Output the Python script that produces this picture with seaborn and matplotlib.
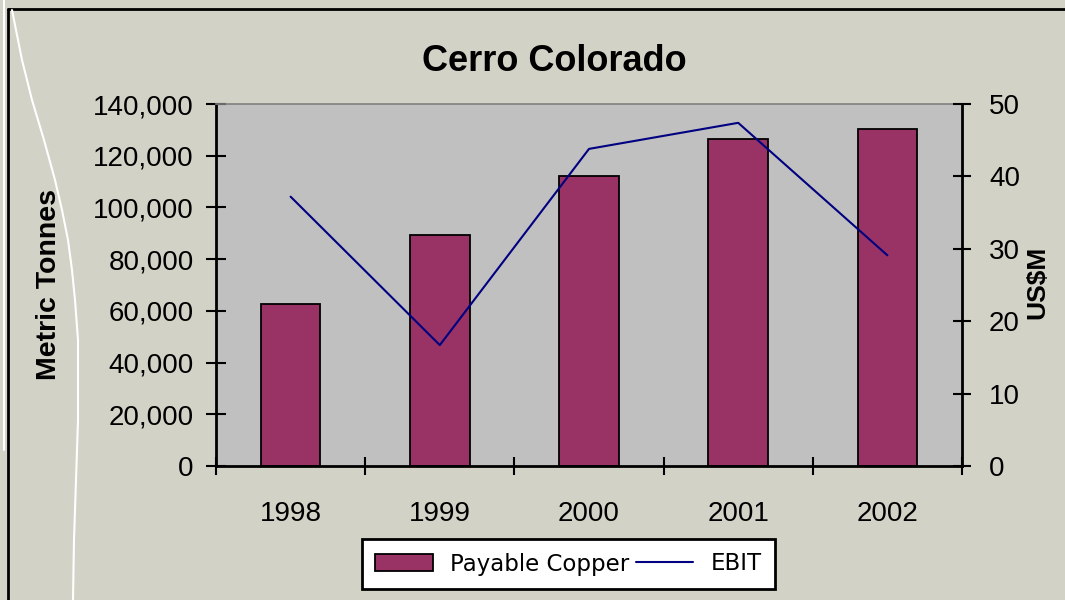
import numpy as np
import pandas as pd
import matplotlib
matplotlib.use("Agg")
import matplotlib.pyplot as plt
from matplotlib.lines import Line2D
from matplotlib.ticker import FuncFormatter, FixedLocator, MultipleLocator
import seaborn as sns

years = ["1998", "1999", "2000", "2001", "2002"]
payable_copper = [62500, 89500, 112000, 126500, 130500]
ebit = [37.2, 16.7, 43.8, 47.4, 29.1]

sns.set_style("white")
plt.rcParams["font.family"] = ["Liberation Sans", "DejaVu Sans"]
plt.rcParams.update({"text.color": "black", "axes.labelcolor": "black",
                     "xtick.color": "black", "ytick.color": "black"})

BG = "#D3D2C7"
fig = plt.figure(figsize=(10.65, 6.0), dpi=100, facecolor=BG)
ax = fig.add_axes([216/1065, 1-466/600, (962-216)/1065, (466-104)/600])
ax.set_facecolor("#C0C0C0")

df = pd.DataFrame({"Year": years, "Payable Copper": payable_copper, "EBIT": ebit})
sns.barplot(data=df, x="Year", y="Payable Copper", ax=ax, color="#993366",
            saturation=1, width=0.4, edgecolor="black", linewidth=1.3,
            label="Payable Copper")

ax2 = ax.twinx()
sns.pointplot(data=df, x="Year", y="EBIT", ax=ax2, color="#000080",
              markers="", linewidth=1.5, errorbar=None, label="EBIT")

for a in (ax, ax2):
    a.set_xlim(-0.5, len(years) - 0.5)
ax.set_ylim(0, 140000)
ax2.set_ylim(0, 50)

# left axis
ax.yaxis.set_major_locator(MultipleLocator(20000))
ax.yaxis.set_major_formatter(FuncFormatter(lambda v, p: f"{int(v):,}"))
ax.tick_params(axis="y", direction="inout", length=14, width=1.5,
               labelsize=20, pad=9, left=True, colors="black")
ax.set_ylabel("Metric Tonnes", fontsize=20.5, fontweight="bold")
ax.yaxis.set_label_coords(-0.207, 0.5)

# x axis: labels at centres, ticks at boundaries
ax.set_xlabel("")
ax.tick_params(axis="x", which="major", length=0, labelsize=20, pad=25,
               colors="black")
ax.xaxis.set_minor_locator(FixedLocator(np.arange(-0.5, len(years), 1.0)))
ax.tick_params(axis="x", which="minor", direction="inout", length=13,
               width=1.5, bottom=True, colors="black")

# right axis
ax2.yaxis.set_major_locator(MultipleLocator(10))
ax2.tick_params(axis="y", direction="inout", length=13, width=1.5,
                labelsize=20, pad=13, right=True, colors="black")
ax2.set_ylabel("US$M", fontsize=19, fontweight="bold")
ax2.yaxis.set_label_coords(1.0845, 0.508)

for s in ("left", "bottom"):
    ax.spines[s].set_color("black")
    ax.spines[s].set_linewidth(2)
ax.spines["top"].set_color("#808080")
ax.spines["top"].set_linewidth(1.2)
ax.spines["right"].set_visible(False)
for s in ("left", "top", "bottom"):
    ax2.spines[s].set_visible(False)
ax2.spines["right"].set_color("black")
ax2.spines["right"].set_linewidth(2)

ax.set_title("Cerro Colorado", fontsize=26, fontweight="bold", x=0.453, pad=24,
             color="black")

# legend
h1, l1 = ax.get_legend_handles_labels()
h2, l2 = ax2.get_legend_handles_labels()
for a in (ax, ax2):
    if a.get_legend() is not None:
        a.get_legend().remove()
leg = fig.legend(h1 + h2, l1 + l2, ncol=2, loc="center",
                 bbox_to_anchor=(367/1065, 1-593/600, (770-367)/1065, 58/600),
                 prop={"family": "DejaVu Sans", "size": 16.5},
                 frameon=True, fancybox=False, shadow=False,
                 handlelength=2.5, handletextpad=0.75, columnspacing=0.3,
                 borderpad=0.58, labelcolor="black")
leg.get_frame().set_edgecolor("black")
leg.get_frame().set_linewidth(2)
leg.get_frame().set_facecolor("white")
leg.get_frame().set_alpha(1)

# chart frame and scan artefacts
fig.add_artist(Line2D([8/1065, 1], [1-9/600, 1-9/600], color="black", lw=2,
                      transform=fig.transFigure))
fig.add_artist(Line2D([8/1065, 8/1065], [0, 1-9/600], color="black", lw=2,
                      transform=fig.transFigure))
wx = [12, 22, 32, 44, 55, 62, 68, 72, 75, 78, 78, 76, 74, 73]
wy = [10, 60, 100, 140, 180, 210, 240, 270, 300, 340, 420, 480, 540, 600]
fig.add_artist(Line2D([x/1065 for x in wx], [1 - y/600 for y in wy],
                      color="white", lw=1.5, transform=fig.transFigure))
fig.add_artist(Line2D([4/1065, 4/1065], [1, 1-450/600], color="white", lw=1.5,
                      transform=fig.transFigure))

fig.savefig("out.png", dpi=100, facecolor=BG)
